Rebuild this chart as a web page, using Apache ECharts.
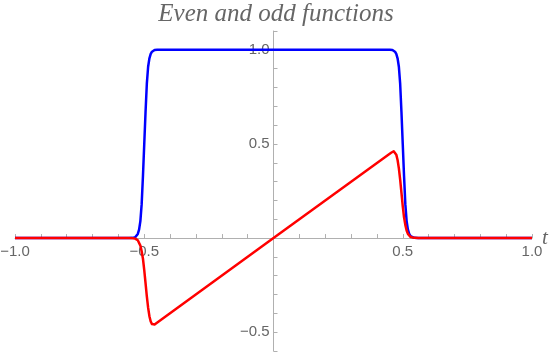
<!DOCTYPE html>
<html>
<head>
<meta charset="utf-8">
<script src="https://cdn.jsdelivr.net/npm/echarts@6/dist/echarts.min.js"></script>
<style>
  html, body { margin: 0; padding: 0; background: #fff; }
  #chart { width: 552px; height: 354px; }
</style>
</head>
<body>
<div id="chart"></div>
<script>
// values
const evenT = [-1, -0.56, -0.545, -0.535, -0.53, -0.525, -0.52, -0.515, -0.51, -0.505, -0.5, -0.495, -0.49, -0.485, -0.48, -0.475, -0.47, -0.465, -0.46, -0.45,
  0.45, 0.46, 0.465, 0.47, 0.475, 0.48, 0.485, 0.49, 0.495, 0.5, 0.505, 0.51, 0.515, 0.52, 0.525, 0.53, 0.535, 0.545, 0.56, 1];
const evenY = [0, 0, 0.001, 0.004, 0.01, 0.022, 0.045, 0.09, 0.18, 0.33, 0.5, 0.67, 0.82, 0.91, 0.955, 0.978, 0.99, 0.996, 0.999, 1,
  1, 0.999, 0.996, 0.99, 0.978, 0.955, 0.91, 0.82, 0.67, 0.5, 0.33, 0.18, 0.09, 0.045, 0.022, 0.01, 0.004, 0.001, 0, 0];

const oddT = [-1, -0.56, -0.545, -0.535, -0.53, -0.525, -0.52, -0.515, -0.51, -0.505, -0.5, -0.495, -0.49, -0.485, -0.48, -0.475, -0.47, -0.465, -0.46, -0.455,
  0, 0.455, 0.46, 0.465, 0.47, 0.475, 0.48, 0.485, 0.49, 0.495, 0.5, 0.505, 0.51, 0.515, 0.52, 0.525, 0.53, 0.535, 0.545, 0.56, 1];
const oddY = [0, 0, -0.001, -0.003, -0.006, -0.012, -0.022, -0.04, -0.07, -0.11, -0.17, -0.24, -0.31, -0.37, -0.415, -0.443, -0.457, -0.461, -0.459, -0.453,
  0, 0.453, 0.459, 0.461, 0.457, 0.443, 0.415, 0.37, 0.31, 0.24, 0.17, 0.11, 0.07, 0.04, 0.022, 0.012, 0.006, 0.003, 0.001, 0, 0];

const xTicks = [-1, -0.9, -0.8, -0.7, -0.6, -0.5, -0.4, -0.3, -0.2, -0.1, 0.1, 0.2, 0.3, 0.4, 0.5, 0.6, 0.7, 0.8, 0.9, 1];
const xLabels = [-1, -0.5, 0.5, 1];
const yTicks = [-0.6, -0.5, -0.4, -0.3, -0.2, -0.1, 0.1, 0.2, 0.3, 0.4, 0.5, 0.6, 0.7, 0.8, 0.9, 1, 1.1];
const yLabels = [-0.5, 0.5, 1];

const fmt = v => v.toFixed(1).replace('-', '\u2212');
const pairs = (xs, ys) => xs.map((x, i) => [x, ys[i]]);

const chart = echarts.init(document.getElementById('chart'));
const axisGray = '#b0b0b0';
const textGray = '#666';
const gridLeft = 15, gridRight = 20, gridTop = 31, gridBottom = 3;

chart.setOption({
  animation: false,
  title: {
    text: 'Even and odd functions',
    left: 'center',
    top: -3,
    textStyle: { fontFamily: 'Liberation Serif', fontStyle: 'italic', fontWeight: 'normal', fontSize: 25, color: textGray }
  },
  grid: { left: gridLeft, right: gridRight, top: gridTop, bottom: gridBottom, containLabel: false, outerBoundsMode: 'none' },
  xAxis: {
    type: 'value', min: -1, max: 1,
    name: 't', nameGap: 10, nameLocation: 'end', nameMoveOverlap: false,
    nameTextStyle: { fontFamily: 'Liberation Serif', fontStyle: 'italic', fontSize: 21, color: textGray, align: 'left', verticalAlign: 'middle', padding: [0, 0, 6, 0] },
    axisLine: { onZero: false, lineStyle: { color: axisGray, width: 1 } },
    axisTick: { show: true, inside: true, length: 4, customValues: xTicks, lineStyle: { color: axisGray } },
    axisLabel: { customValues: xLabels, formatter: fmt, color: textGray, fontFamily: 'Liberation Sans', fontSize: 15, margin: 6 },
    splitLine: { show: false }
  },
  yAxis: {
    type: 'value', min: -0.6, max: 1.1,
    axisLine: { show: true, onZero: false, lineStyle: { color: axisGray, width: 1 } },
    axisTick: { show: true, inside: true, length: 4, customValues: yTicks, lineStyle: { color: axisGray } },
    axisLabel: { customValues: yLabels, formatter: fmt, color: textGray, fontFamily: 'Liberation Sans', fontSize: 15, margin: 4 },
    splitLine: { show: false }
  },
  series: [
    {
      type: 'line', data: pairs(evenT, evenY), showSymbol: false,
      lineStyle: { color: '#0000ff', width: 2.5, join: 'round' }, z: 2
    },
    {
      type: 'line', data: pairs(oddT, oddY), showSymbol: false,
      lineStyle: { color: '#ff0000', width: 2.5, join: 'round' }, z: 3
    }
  ]
});

// move both axes so they cross at the origin, labels included
const origin = chart.convertToPixel({ gridIndex: 0 }, [0, 0]);
chart.setOption({
  xAxis: { offset: -(354 - gridBottom - origin[1]) },
  yAxis: { offset: -(origin[0] - gridLeft) }
});
</script>
</body>
</html>
